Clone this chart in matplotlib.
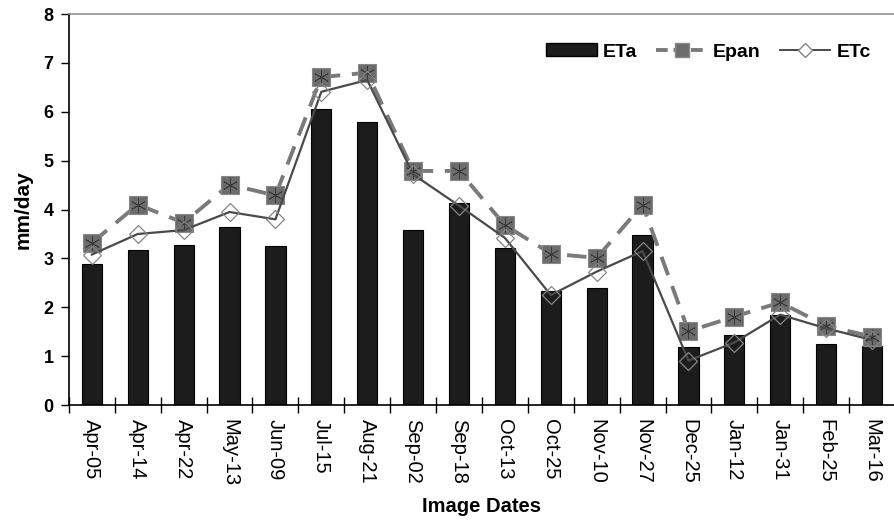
import matplotlib.pyplot as plt
import numpy as np
from matplotlib.lines import Line2D
from matplotlib.patches import Patch

plt.rcParams['font.family'] = ['Liberation Sans', 'DejaVu Sans']

dates = ['Apr-05', 'Apr-14', 'Apr-22', 'May-13', 'Jun-09', 'Jul-15', 'Aug-21',
         'Sep-02', 'Sep-18', 'Oct-13', 'Oct-25', 'Nov-10', 'Nov-27', 'Dec-25',
         'Jan-12', 'Jan-31', 'Feb-25', 'Mar-16']
eta = [2.88, 3.17, 3.27, 3.65, 3.25, 6.05, 5.80, 3.59, 4.14, 3.22, 2.34, 2.39,
       3.48, 1.18, 1.44, 1.85, 1.25, 1.21]
epan = [3.32, 4.10, 3.73, 4.51, 4.29, 6.71, 6.80, 4.79, 4.79, 3.68, 3.10, 3.01,
        4.10, 1.51, 1.81, 2.10, 1.62, 1.40]
etc = [3.08, 3.50, 3.58, 3.95, 3.80, 6.41, 6.65, 4.72, 4.08, 3.42, 2.25, 2.73,
       3.15, 0.91, 1.28, 1.85, 1.57, 1.33]

x = np.arange(len(dates))

fig = plt.figure(figsize=(8.95, 5.2), dpi=100)
ax = fig.add_axes([0.077, 0.221, 0.923, 0.752])

ax.bar(x, eta, width=0.44, color='#1c1c1c', edgecolor='#000000', linewidth=0.8, zorder=2)

epan_color = '#7a7a7a'
ax.plot(x, epan, color=epan_color, linewidth=2.8, dashes=(5, 3), zorder=3)
ax.plot(x, epan, linestyle='none', marker='s', markersize=12.5,
        markerfacecolor='#6c6c6c', markeredgecolor='#888888', markeredgewidth=0.8, zorder=4)
ax.plot(x, epan, linestyle='none', marker=(6, 2, 0), markersize=11,
        markeredgecolor='#3a3a3a', markeredgewidth=0.6, zorder=5)

ax.plot(x, etc, color='#4a4a4a', linewidth=1.6, zorder=6)
ax.plot(x, etc, linestyle='none', marker='D', markersize=9,
        markerfacecolor='none', markeredgecolor='#858585', markeredgewidth=0.9, zorder=7)

ax.set_xlim(-0.5, 17.26)
ax.set_ylim(0, 8)
ax.set_yticks(range(0, 9))
ax.set_yticklabels([str(v) for v in range(0, 9)], fontsize=13, fontweight='bold')
ax.set_xticks(x)
ax.set_xticklabels(dates, rotation=270, fontsize=14.5)
ax.set_xticks(np.arange(-0.5, 18, 1), minor=True)
ax.tick_params(axis='x', which='major', length=0, pad=10)
ax.tick_params(axis='x', which='minor', direction='inout', length=11, width=1)
ax.tick_params(axis='y', direction='out', length=6, width=1, pad=5)

ax.spines['right'].set_visible(False)
ax.spines['top'].set_color('#909090')
ax.spines['top'].set_linewidth(1.2)
ax.spines['left'].set_linewidth(1.2)
ax.spines['bottom'].set_linewidth(1.2)

ax.set_ylabel('mm/day', fontsize=15, fontweight='bold', labelpad=8)
ax.set_xlabel('Image Dates', fontsize=14.5, fontweight='bold', labelpad=8)

handles = [
    Patch(facecolor='#1c1c1c', edgecolor='#000000'),
    Line2D([0], [0], color=epan_color, linewidth=2.8, dashes=(3, 1.5), marker='s',
           markersize=10, markerfacecolor='#6c6c6c', markeredgecolor='#888888'),
    Line2D([0], [0], color='#4a4a4a', linewidth=1.4, marker='D', markersize=7,
           markerfacecolor='white', markeredgecolor='#858585'),
]
leg = ax.legend(handles, ['ETa', 'Epan', 'ETc'], ncol=3, frameon=False,
                loc='upper right', bbox_to_anchor=(0.98, 0.945), borderaxespad=0,
                prop={'size': 14, 'weight': 'bold'}, handlelength=2.6,
                handleheight=0.65, columnspacing=1.0, handletextpad=0.3)

fig.savefig('out.png', dpi=100)
